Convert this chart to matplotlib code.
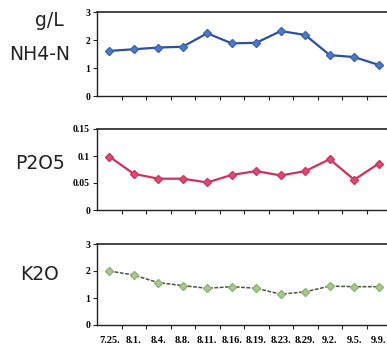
import matplotlib
matplotlib.use("Agg")
import matplotlib.pyplot as plt
import numpy as np

dates = ["7.25.", "8.1.", "8.4.", "8.8.", "8.11.", "8.16.", "8.19.", "8.23.", "8.29.", "9.2.", "9.5.", "9.9."]
nh4n = [1.61, 1.67, 1.73, 1.76, 2.24, 1.88, 1.90, 2.32, 2.18, 1.46, 1.39, 1.11]
p2o5 = [0.099, 0.067, 0.058, 0.058, 0.051, 0.065, 0.072, 0.064, 0.072, 0.094, 0.056, 0.086]
k2o = [2.00, 1.85, 1.57, 1.46, 1.36, 1.42, 1.36, 1.14, 1.23, 1.44, 1.42, 1.42]

W, H = 387, 352
fig = plt.figure(figsize=(W / 100, H / 100), dpi=100)

def px_axes(top, bottom, left=97, right=391):
    return fig.add_axes([left / W, 1 - bottom / H, (right - left) / W, (bottom - top) / H])

ytick_font = dict(family="Liberation Serif", weight="bold", size=7)
xtick_font = dict(family="Liberation Serif", weight="bold", size=7.5)

panels = [
    dict(top=12, bottom=96, data=nh4n, ylim=(0, 3), yticks=[0, 1, 2, 3], ylabels=["0", "1", "2", "3"],
         lc="#2E4F9A", mfc="#4F79C8", mec="#3C63AE", ls="-", lw=1.6),
    dict(top=129, bottom=210, data=p2o5, ylim=(0, 0.15), yticks=[0, 0.05, 0.1, 0.15],
         ylabels=["0", "0.05", "0.1", "0.15"],
         lc="#D0305A", mfc="#DE4A72", mec="#C8385E", ls="-", lw=1.6),
    dict(top=244, bottom=325, data=k2o, ylim=(0, 3), yticks=[0, 1, 2, 3], ylabels=["0", "1", "2", "3"],
         lc="#4A5540", mfc="#A6C98C", mec="#8FB277", ls=(0, (2.5, 1)), lw=1.1),
]

x = np.arange(len(dates)) + 0.5
for i, p in enumerate(panels):
    ax = px_axes(p["top"], p["bottom"])
    ax.plot(x, p["data"], color=p["lc"], linestyle=p["ls"], linewidth=p["lw"], marker="D",
            markersize=4.2, markerfacecolor=p["mfc"], markeredgecolor=p["mec"], zorder=3)
    ax.set_xlim(0, len(dates))
    ax.set_ylim(*p["ylim"])
    ax.set_yticks(p["yticks"])
    ax.set_yticklabels(p["ylabels"], fontdict=ytick_font)
    ax.set_xticks(np.arange(1, len(dates)))
    ax.set_xticks(x, minor=True)
    ax.tick_params(axis="x", which="major", direction="out", length=3, width=0.8, color="#222")
    ax.tick_params(axis="x", which="minor", length=0)
    ax.tick_params(axis="y", direction="out", length=3, width=0.8, color="#222", pad=2)
    ax.set_xticklabels([])
    if i == 2:
        ax.set_xticklabels(dates, minor=True, fontdict=xtick_font)
        ax.tick_params(axis="x", which="minor", pad=8)
    for s in ["left", "bottom", "top", "right"]:
        ax.spines[s].set_color("#222")
        ax.spines[s].set_linewidth(1.0)
    ax.spines["top"].set_linewidth(1.2)

label_font = dict(family="DejaVu Sans", size=13.5, color="#222")
fig.text(49 / W, 1 - 21 / H, "g/L", ha="center", va="center", **label_font)
fig.text(40 / W, 1 - 54 / H, "NH4-N", ha="center", va="center", **label_font)
fig.text(40 / W, 1 - 163 / H, "P2O5", ha="center", va="center", **label_font)
fig.text(40 / W, 1 - 274 / H, "K2O", ha="center", va="center", **label_font)

fig.savefig("out.png", dpi=100)
